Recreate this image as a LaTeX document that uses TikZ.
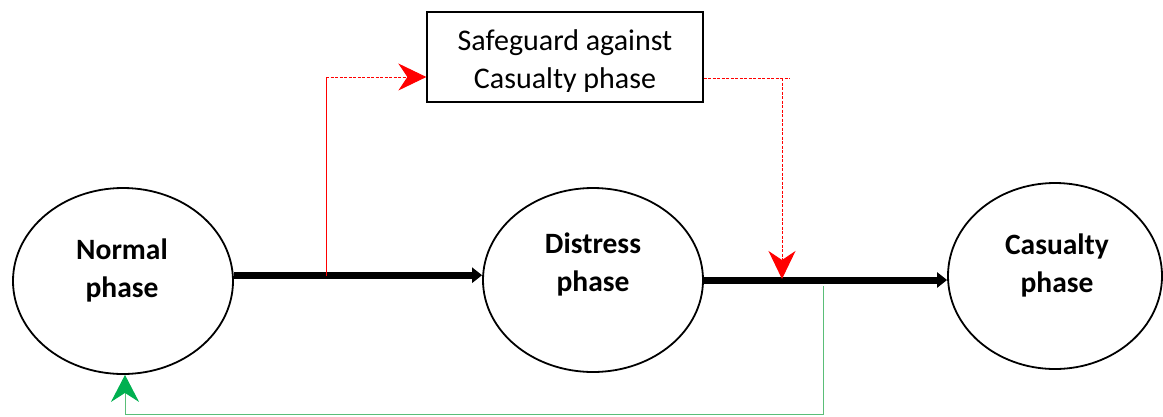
\documentclass[tikz,border=0pt]{standalone}
\usepackage{fontspec}
\setmainfont{Carlito}
\usetikzlibrary{shapes.geometric,arrows.meta,calc}
\definecolor{redline}{RGB}{255,0,0}
\definecolor{greenline}{RGB}{90,190,120}
\definecolor{greenhead}{RGB}{0,176,80}
\tikzset{
  phase/.style={ellipse,draw=black,line width=1.8pt,inner sep=0pt},
  phasetext/.style={align=center,font=\fontsize{29.5}{38}\selectfont\bfseries},
  boxtext/.style={align=center,font=\fontsize{30}{38}\selectfont},
  mainarrow/.style={line width=7pt,-{Triangle[length=10pt,width=15pt]}},
  redconn/.style={draw=redline,line width=1pt},
  reddash/.style={redconn,dash pattern=on 3pt off 1.5pt},
  bighead/.style={-{Stealth[length=28pt,width=27pt,inset=9pt]}},
}
\begin{document}
\begin{tikzpicture}[x=1pt,y=-1pt]
\useasboundingbox (0,0) rectangle (1163,416);
% ellipses
\node[phase,minimum width=220pt,minimum height=186pt] (normal) at (123,281) {};
\node[phase,minimum width=220pt,minimum height=184pt] (distress) at (593,280) {};
\node[phase,minimum width=214pt,minimum height=186pt] (casualty) at (1055,276) {};
\node[phasetext] (normaltext) at (122,270) {Normal\\phase};
\node[phasetext] (distresstext) at (593,264) {Distress\\phase};
\node[phasetext] (casualtytext) at (1057,265) {Casualty\\phase};
% top box
\node[draw=black,line width=1.3pt,minimum width=276pt,minimum height=90pt,inner sep=0pt] (box) at (565,57) {};
\begin{scope}
\clip (428,13) rectangle (702,91);
\node[boxtext] (boxtext) at (565,61) {Safeguard against\\Casualty phase};
\end{scope}
% main arrows
\draw[mainarrow] (normal.3) -- (normal.3 -| distress.west);
\draw[mainarrow] (distress.0.5) -- (distress.0.5 -| casualty.west);
% red connectors
\coordinate (r1) at (326,276);
\coordinate (r1top) at (326,77);
\coordinate (r1end) at (box.west |- r1top);
\draw[redconn] (r1) -- (r1top);
\draw[reddash,bighead] (r1top) -- (r1end);
\coordinate (r2start) at (box.east |- 0,78);
\coordinate (r2over) at (790,78);
\coordinate (r2corner) at (782,78);
\coordinate (r2end) at (782,279);
\draw[reddash] (r2start) -- (r2over);
\draw[reddash,bighead] (r2corner) -- (r2end);
% green connector
\coordinate (g1) at (823,286);
\coordinate (g2) at (823,414);
\coordinate (g3) at (125,414);
\draw[draw=greenline,line width=1pt] (g1) -- (g2) -- (g3);
\draw[draw=greenline,line width=1pt,-{Stealth[length=27pt,width=28pt,inset=9pt,color=greenhead]}] (g3) -- (normal.south -| g3);
\end{tikzpicture}
\end{document}
